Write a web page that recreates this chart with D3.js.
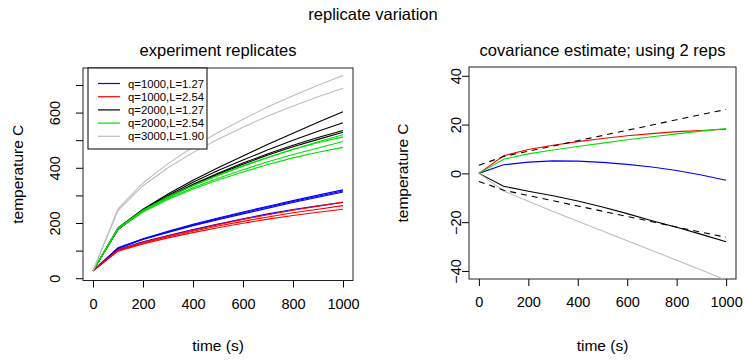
<!DOCTYPE html>
<html><head><meta charset="utf-8">
<script src="https://cdn.jsdelivr.net/npm/d3@7"></script>
<style>
body{margin:0;background:#fff;}
svg{display:block;font-family:"Liberation Sans",Arial,Helvetica,sans-serif;}
</style></head>
<body>
<script>
// ---------- data ----------
const time = [0,100,200,300,400,500,600,700,800,900,1000];

const legendLabels = ["q=1000,L=1.27","q=1000,L=2.54","q=2000,L=1.27","q=2000,L=2.54","q=3000,L=1.90"];
const seriesColors = ["#0000FF","#FF0000","#000000","#00E000","#BEBEBE"];

// left panel: experiment replicates (temperature C)
const blueReps = [
  [27,110,143,170,195,218,240,261,281,301,320],
  [27,109,142,168,192,215,237,258,278,297,316],
  [27,108,140,166,190,212,233,254,274,293,312],
  [27,104,132,155,176,196,215,233,249,262,274]
];
const redReps = [
  [27,102,130,153,174,194,213,230,246,261,276],
  [27,100,127,150,170,189,206,222,237,250,263],
  [27,98,124,146,165,183,199,214,227,239,250]
];
const blackReps = [
  [27,182,250,305,355,400,443,485,525,565,603],
  [27,180,248,300,348,390,428,465,500,532,563],
  [27,178,245,295,340,380,417,451,482,510,535],
  [27,176,243,293,338,377,413,446,476,503,529]
];
const greenReps = [
  [27,180,245,293,335,372,406,437,466,494,520],
  [27,181,246,294,336,373,407,438,467,491,512],
  [27,180,243,289,328,362,393,422,448,472,495],
  [27,178,240,285,323,356,385,412,436,456,474]
];
const grayReps = [
  [27,251,345,415,475,528,576,621,661,699,734],
  [27,245,335,400,455,503,547,588,624,657,688]
];

// right panel: covariance estimate (temperature C)
const covBlue  = [0,3.5,4.6,5.1,5.0,4.5,3.7,2.6,1.2,-0.7,-2.8];
const covRed   = [0,7.2,9.8,11.5,13.0,14.3,15.4,16.3,17.1,17.6,18.1];
const covBlack = [0,-5.3,-7.3,-9.2,-11.3,-13.8,-16.5,-19.4,-22.1,-25.0,-28.0];
const covGreen = [0,5.8,8.0,9.6,11.0,12.4,13.8,15.0,16.2,17.3,18.4];
const covGray  = [0,-7.2,-11.4,-15.6,-19.6,-23.6,-27.6,-31.6,-35.6,-39.6,-43.8];
const bandUpper = [3.3,6.9,9.1,11.2,13.4,15.5,17.7,19.8,22.0,24.1,26.2];
const bandLower = [-3.3,-6.9,-9.1,-11.2,-13.4,-15.5,-17.7,-19.8,-22.0,-24.1,-26.2];

const xTicks = [0,200,400,600,800,1000];
const leftYTicks = [0,100,200,300,400,500,600,700];
const leftYLabels = [0,200,400,600];
const rightYTicks = [-40,-20,0,20,40];

// ---------- layout ----------
const W = 746, H = 361;
const svg = d3.select("body").append("svg").attr("width",W).attr("height",H);

const L = {x0:83, x1:353, y0:68, y1:280.5};
const R = {x0:469, x1:736, y0:67, y1:279};

const xL = d3.scaleLinear().domain([-40,1040]).range([L.x0,L.x1]);
const yL = d3.scaleLinear().domain([-8.3,761.5]).range([L.y1,L.y0]);
const xR = d3.scaleLinear().domain([-40,1040]).range([R.x0,R.x1]);
const yR = d3.scaleLinear().domain([-43.3,43.6]).range([R.y1,R.y0]);

const defs = svg.append("defs");
defs.append("clipPath").attr("id","clipL").append("rect")
  .attr("x",L.x0).attr("y",L.y0).attr("width",L.x1-L.x0).attr("height",L.y1-L.y0);
defs.append("clipPath").attr("id","clipR").append("rect")
  .attr("x",R.x0).attr("y",R.y0).attr("width",R.x1-R.x0).attr("height",R.y1-R.y0);

// titles
svg.append("text").attr("x",373).attr("y",20).attr("text-anchor","middle")
  .attr("font-size",16.5).text("replicate variation");
svg.append("text").attr("x",(L.x0+L.x1)/2).attr("y",56).attr("text-anchor","middle")
  .attr("font-size",16.5).text("experiment replicates");
svg.append("text").attr("x",(R.x0+R.x1)/2).attr("y",56).attr("text-anchor","middle")
  .attr("font-size",16.5).text("covariance estimate; using 2 reps");

function drawAxes(P, x, y, yTicks, yLabelSet, yLabX, yTitleX) {
  const g = svg.append("g");
  // x axis
  const ax = d3.axisBottom(x).tickValues(xTicks).tickSize(7).tickPadding(11).tickFormat(d3.format("d"));
  const gx = g.append("g").attr("transform",`translate(0,${P.y1})`).call(ax);
  gx.select(".domain").remove();
  gx.selectAll("line").attr("stroke","#000");
  gx.selectAll("text").attr("font-size",14.5).attr("fill","#000")
    .attr("font-family",'"Liberation Sans",Arial,sans-serif');
  // y axis
  const ay = d3.axisLeft(y).tickValues(yTicks).tickSize(7).tickFormat(d => yLabelSet.includes(d) ? d3.format("d")(d) : "");
  const gy = g.append("g").attr("transform",`translate(${P.x0},0)`).call(ay);
  gy.select(".domain").remove();
  gy.selectAll("line").attr("stroke","#000");
  gy.selectAll("text").attr("font-size",14.5).attr("fill","#000")
    .attr("font-family",'"Liberation Sans",Arial,sans-serif')
    .attr("x",null).attr("dy",null)
    .attr("text-anchor","middle")
    .attr("transform",`translate(${yLabX - P.x0},0) rotate(-90)`);
  // box
  g.append("rect").attr("x",P.x0).attr("y",P.y0).attr("width",P.x1-P.x0).attr("height",P.y1-P.y0)
    .attr("fill","none").attr("stroke","#222").attr("stroke-width",1);
  // axis titles
  g.append("text").attr("x",(P.x0+P.x1)/2).attr("y",351).attr("text-anchor","middle")
    .attr("font-size",15.5).text("time (s)");
  g.append("text").attr("transform",`translate(${yTitleX},${(P.y0+P.y1)/2}) rotate(-90)`)
    .attr("text-anchor","middle").attr("font-size",15.5).text("temperature C");
}

drawAxes(L, xL, yL, leftYTicks, leftYLabels, 60, 23);
drawAxes(R, xR, yR, rightYTicks, rightYTicks, 461, 408);

// left panel lines
const lineL = d3.line().x((d,i)=>xL(time[i])).y(d=>yL(d));
const gL = svg.append("g").attr("clip-path","url(#clipL)");
const groupsL = [blueReps, redReps, blackReps, greenReps, grayReps];
groupsL.forEach((reps,k) => {
  reps.forEach(r => {
    gL.append("path").attr("d",lineL(r)).attr("fill","none")
      .attr("stroke",seriesColors[k]).attr("stroke-width",1.1);
  });
});

// legend
const lg = svg.append("g");
lg.append("rect").attr("x",88).attr("y",68).attr("width",119).attr("height",81)
  .attr("fill","#fff").attr("stroke","#000").attr("stroke-width",1);
legendLabels.forEach((lab,i) => {
  const yy = 83.5 + i*13.2;
  lg.append("line").attr("x1",98).attr("x2",120).attr("y1",yy).attr("y2",yy)
    .attr("stroke",seriesColors[i]).attr("stroke-width",1.2);
  lg.append("text").attr("x",128).attr("y",yy+4).attr("font-size",11.3).text(lab);
});

// right panel lines
const lineR = d3.line().x((d,i)=>xR(time[i])).y(d=>yR(d));
const gR = svg.append("g").attr("clip-path","url(#clipR)");
[[covBlue,0],[covRed,1],[covBlack,2],[covGreen,3],[covGray,4]].forEach(([s,k]) => {
  gR.append("path").attr("d",lineR(s)).attr("fill","none")
    .attr("stroke",seriesColors[k]).attr("stroke-width",1.1);
});
[bandUpper, bandLower].forEach(s => {
  gR.append("path").attr("d",lineR(s)).attr("fill","none")
    .attr("stroke","#000").attr("stroke-width",1.1).attr("stroke-dasharray","6,5");
});
</script>
</body></html>
